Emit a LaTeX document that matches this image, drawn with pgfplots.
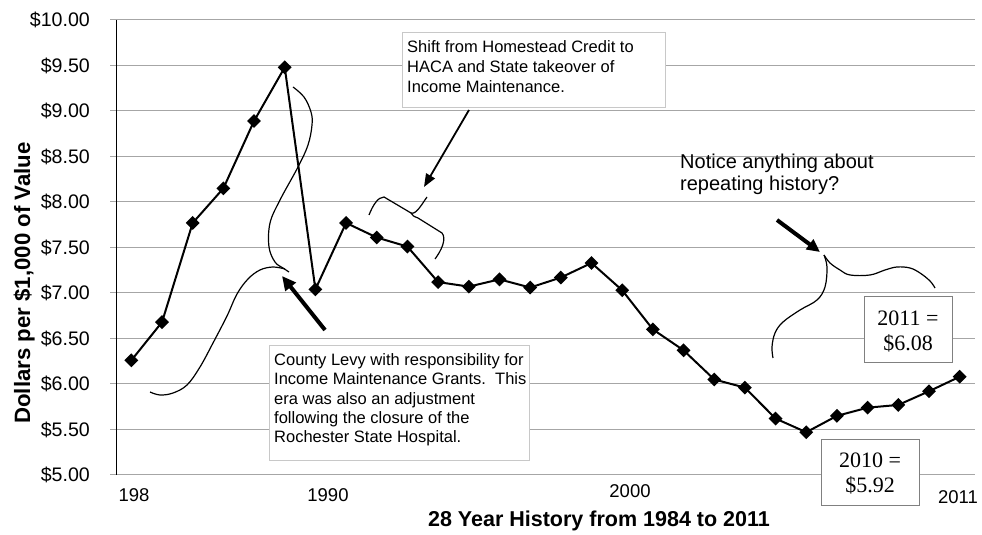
\documentclass[border=0pt]{standalone}
\usepackage{pgfplots}
\pgfplotsset{compat=1.18}
\usepackage{fontspec}
\setmainfont{Liberation Sans}
\newfontfamily\tnr{Liberation Serif}
\usetikzlibrary{arrows.meta}
\definecolor{gridgray}{HTML}{A6A6A6}
\definecolor{boxgray}{HTML}{C8C8C8}
\definecolor{valgray}{HTML}{808080}
\newcommand\fs{\fontsize{16.5}{20}\selectfont}
\begin{document}
\begin{tikzpicture}[x=1pt,y=1pt]
\path[use as bounding box] (0,0) rectangle (982,535);
\begin{axis}[
  at={(116pt,60pt)}, anchor=south west,
  scale only axis, width=859pt, height=455pt,
  xmin=1983.5, xmax=2011.5, ymin=5, ymax=10,
  axis x line=none, axis y line=left,
  y axis line style={-, black, line width=1pt},
  ytick={5,5.5,6,6.5,7,7.5,8,8.5,9,9.5,10},
  yticklabels={\$5.00,\$5.50,\$6.00,\$6.50,\$7.00,\$7.50,\$8.00,\$8.50,\$9.00,\$9.50,\$10.00},
  yticklabel style={font=\fontsize{19.6}{23}\selectfont, anchor=east, inner sep=0pt},
  yticklabel shift={20pt},
  tick align=outside, major tick length=6pt,
  ytick style={gridgray, line width=1pt},
  ymajorgrids, grid style={gridgray, line width=1pt},
  clip=false,
]
\addplot[black, line width=2pt, mark=square*, mark size=3.9pt, mark options={rotate=45, solid}] coordinates {
(1984,6.26) (1985,6.68) (1986,7.77) (1987,8.15) (1988,8.89) (1989,9.48)
(1990,7.04) (1991,7.77) (1992,7.61) (1993,7.51) (1994,7.12) (1995,7.07)
(1996,7.15) (1997,7.06) (1998,7.17) (1999,7.33) (2000,7.03) (2001,6.60)
(2002,6.37) (2003,6.05) (2004,5.96) (2005,5.62) (2006,5.47) (2007,5.65)
(2008,5.74) (2009,5.77) (2010,5.92) (2011,6.08)};
\end{axis}
% x labels
\begin{scope}[every node/.style={inner sep=0pt, font=\fontsize{18.5}{22}\selectfont}]
\node[anchor=base] at (134,33) {198};
\node[anchor=base] at (328,33) {1990};
\node[anchor=base] at (630,37) {2000};
\node[anchor=base] at (958,31) {2011};
\end{scope}
\node[anchor=base, inner sep=0pt, font=\fontsize{21.5}{25}\selectfont\bfseries] at (599,8) {28 Year History from 1984 to 2011};
\node[rotate=90, anchor=base, inner sep=0pt, font=\fontsize{22.2}{25}\selectfont\bfseries] at (30,252) {Dollars per \$1,000 of Value};
% Shift box
\draw[boxgray, fill=white, line width=1pt] (402,427) rectangle (665,502);
\begin{scope}[every node/.style={inner sep=0pt, anchor=base west, font=\fs}]
\node at (407,482) {Shift from Homestead Credit to};
\node at (407,462) {HACA and State takeover of};
\node at (407,442) {Income Maintenance.};
\end{scope}
% County box
\draw[boxgray, fill=white, line width=1pt] (269,74) rectangle (529,189);
\begin{scope}[every node/.style={inner sep=0pt, anchor=base west, font=\fs}]
\node at (274,169) {County Levy with responsibility for};
\node at (274,150) {Income Maintenance Grants.\ \ This};
\node at (274,130) {era was also an adjustment};
\node at (274,111) {following the closure of the};
\node at (274,92) {Rochester State Hospital.};
\end{scope}
% Notice text
\begin{scope}[every node/.style={inner sep=0pt, anchor=base west, font=\fontsize{20}{23}\selectfont}]
\node at (680,366) {Notice anything about};
\node at (680,344) {repeating history?};
\end{scope}
% value boxes
\draw[valgray, fill=white, line width=1pt] (864,172) rectangle (952,238);
\draw[valgray, fill=white, line width=1pt] (821,29) rectangle (919,95);
\begin{scope}[every node/.style={inner sep=0pt, anchor=base, font=\tnr\fontsize{22}{25}\selectfont}]
\node at (908,209) {2011 =};
\node at (908,184) {\$6.08};
\node at (870,67) {2010 =};
\node at (870,42) {\$5.92};
\end{scope}
% curves
\draw[line width=1.2pt] plot[smooth, tension=0.6] coordinates {(293,448) (304,438) (311,423) (312,410) (308,390) (298,368) (280,335) (270,312) (269,288) (275,273) (283,267) (289,263)};
\draw[line width=1.2pt] plot[smooth, tension=0.6] coordinates {(285,266) (273,268) (260,265) (248,256) (237,241) (227,219) (213,192) (200,168) (187,150) (173,142) (160,140) (150,143)};
\draw[line width=1.2pt] (369,320) .. controls (373,330) and (378,338) .. (384,338) -- (411,322) .. controls (416,320) and (422,331) .. (427,338);
\draw[line width=1.2pt] (411,322) .. controls (413,319) .. (418,317) -- (442,302) .. controls (447,296) and (441,284) .. (435,276);
\draw[line width=1.2pt] plot[smooth, tension=0.6] coordinates {(824,280) (830,272) (840,265) (850,260) (870,260) (885,265) (897,268) (910,267) (920,262) (930,254) (935,247)};
\draw[line width=1.2pt] plot[smooth, tension=0.6] coordinates {(824,280) (827,268) (825,248) (817,235) (800,225) (783,213) (775,202) (772,188) (773,177)};
% arrows
\draw[line width=4pt, -{Triangle[length=14pt,width=13pt]}] (325,205) -- (282,259);
\draw[line width=1.8pt, -{Triangle[length=13pt,width=10pt]}] (469,425) -- (424,348);
\draw[line width=4pt, -{Triangle[length=13pt,width=12pt]}] (777,315) -- (820,283);
\end{tikzpicture}
\end{document}
